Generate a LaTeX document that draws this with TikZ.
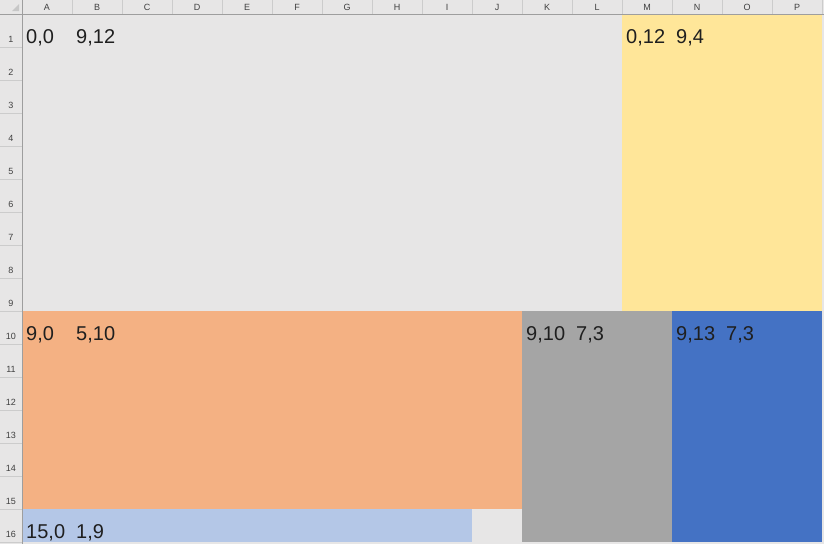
\documentclass[tikz,border=0pt]{standalone}
\usepackage{fontspec}
\setmainfont{Liberation Sans}
\usetikzlibrary{positioning,calc}
\definecolor{sheetgrey}{HTML}{E7E6E6}
\definecolor{sheetyellow}{HTML}{FFE699}
\definecolor{sheetorange}{HTML}{F4B183}
\definecolor{sheetlightblue}{HTML}{B4C7E7}
\definecolor{sheetdarkgrey}{HTML}{A5A5A5}
\definecolor{sheetblue}{HTML}{4472C4}
\tikzset{
  block/.style={rectangle, draw=none, anchor=north west, inner sep=0pt,
    outer sep=0pt},
  celllab/.style={anchor=base west, inner sep=0pt,
    font=\fontsize{20}{20}\selectfont, text=black!88},
  colhead/.style={inner sep=0pt, font=\fontsize{9}{9}\selectfont, text=black!75},
  rowhead/.style={inner sep=0pt, font=\fontsize{9}{9}\selectfont, text=black!75},
  headsep/.style={draw=black!20, line width=0.8pt},
  headedge/.style={draw=black!38, line width=1pt},
}
\begin{document}
\begin{tikzpicture}[x=1pt, y=-1pt]
\useasboundingbox (0,0) rectangle (824,544);
\fill[sheetgrey] (0,0) rectangle (824,544);
% --- headers ---
\foreach \k in {1,...,16} \draw[headsep] (22+50*\k,0) -- (22+50*\k,14);
\foreach \k in {1,...,16} \draw[headsep] (0,14+33*\k) -- (22,14+33*\k);
\foreach \c [count=\i from 0] in {A,B,C,D,E,F,G,H,I,J,K,L,M,N,O,P}
  \node[colhead] (col\c) at (47+50*\i,7.5) {\c};
\foreach \r in {1,...,16}
  \node[rowhead] (row\r) at (11,14+33*\r-8) {\r};
\fill[black!22] (19,4) -- (19,11) -- (12,11) -- cycle;
\draw[headedge] (0,14) -- (824,14);
\draw[headedge] (22,0) -- (22,544);
% --- blocks ---
\node[block, fill=sheetgrey, minimum width=600pt, minimum height=297pt] (bgrey) at (22.5,14.5) {};
\node[block, fill=sheetyellow, minimum width=200pt, minimum height=297pt] (byellow) at (622,14.5) {};
\node[block, fill=sheetorange, minimum width=500pt, minimum height=198pt] (borange) at (22.5,311) {};
\node[block, fill=sheetlightblue, minimum width=450pt, minimum height=33pt] (blightblue) at (22.5,509) {};
\node[block, fill=sheetgrey, minimum width=50pt, minimum height=33pt] (bgap) at (472,509) {};
\node[block, fill=sheetdarkgrey, minimum width=150pt, minimum height=231pt] (bdarkgrey) at (522,311) {};
\node[block, fill=sheetblue, minimum width=150pt, minimum height=231pt] (bblue) at (672,311) {};
% --- labels ---
\node[celllab] (lgreypos) at ($(bgrey.north west)+(3.5,29)$) {0,0};
\node[celllab] (lgreysize) at ($(bgrey.north west)+(53.5,29)$) {9,12};
\node[celllab] (lyellowpos) at ($(byellow.north west)+(4,29)$) {0,12};
\node[celllab] (lyellowsize) at ($(byellow.north west)+(54,29)$) {9,4};
\node[celllab] (lorangepos) at ($(borange.north west)+(3.5,29)$) {9,0};
\node[celllab] (lorangesize) at ($(borange.north west)+(53.5,29)$) {5,10};
\node[celllab] (llightbluepos) at ($(blightblue.north west)+(3.5,29)$) {15,0};
\node[celllab] (llightbluesize) at ($(blightblue.north west)+(53.5,29)$) {1,9};
\node[celllab] (ldarkgreypos) at ($(bdarkgrey.north west)+(4,29)$) {9,10};
\node[celllab] (ldarkgreysize) at ($(bdarkgrey.north west)+(54,29)$) {7,3};
\node[celllab] (lbluepos) at ($(bblue.north west)+(4,29)$) {9,13};
\node[celllab] (lbluesize) at ($(bblue.north west)+(54,29)$) {7,3};
\end{tikzpicture}
\end{document}
